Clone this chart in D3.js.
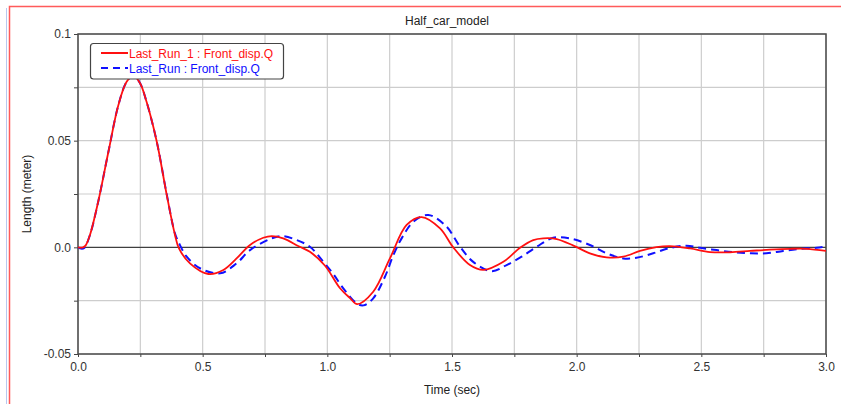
<!DOCTYPE html>
<html>
<head>
<meta charset="utf-8">
<script src="https://cdn.jsdelivr.net/npm/d3@7"></script>
<style>
  html, body { margin: 0; padding: 0; background: #fff; }
  svg { display: block; }
  text { font-family: "Liberation Sans", Arial, sans-serif; }
</style>
</head>
<body>
<div id="chart"></div>
<script>
// ---- data ----
const title = "Half_car_model";
const xLabel = "Time (sec)";
const yLabel = "Length (meter)";
const seriesNames = ["Last_Run_1 : Front_disp.Q", "Last_Run : Front_disp.Q"];

const timeRun1 = [0, 0.02, 0.03, 0.048, 0.081, 0.122, 0.162, 0.195, 0.222, 0.249, 0.275, 0.316, 0.356, 0.389, 0.405, 0.449, 0.523, 0.583, 0.636, 0.69, 0.743, 0.777, 0.823, 0.885, 0.93, 0.99, 1.051, 1.091, 1.12, 1.184, 1.251, 1.318, 1.378, 1.452, 1.505, 1.572, 1.626, 1.706, 1.773, 1.826, 1.866, 1.92, 1.987, 2.053, 2.12, 2.187, 2.254, 2.32, 2.374, 2.455, 2.535, 2.615, 2.695, 2.775, 2.856, 2.922, 3.0];
const lastRun1 = [0, 0, 0.0008, 0.0058, 0.0214, 0.0448, 0.0667, 0.0776, 0.0805, 0.0769, 0.0682, 0.0495, 0.0245, 0.0058, -0.0005, -0.0075, -0.0125, -0.0106, -0.0052, 0.0011, 0.0045, 0.0053, 0.0042, 0.0005, -0.0021, -0.0085, -0.0192, -0.0238, -0.0266, -0.0208, -0.0052, 0.0105, 0.0142, 0.0089, 0, -0.0083, -0.0106, -0.0068, -0.0002, 0.0034, 0.0042, 0.0039, 0.0008, -0.0028, -0.0047, -0.0044, -0.0017, 0.0001, 0.0006, -0.0005, -0.0022, -0.0023, -0.0017, -0.0011, -0.0007, -0.0007, -0.0017];

const timeRun = [0, 0.012, 0.025, 0.048, 0.081, 0.122, 0.162, 0.195, 0.222, 0.249, 0.275, 0.316, 0.356, 0.389, 0.41, 0.436, 0.489, 0.57, 0.636, 0.69, 0.77, 0.817, 0.877, 0.93, 0.984, 1.024, 1.064, 1.118, 1.145, 1.184, 1.231, 1.265, 1.298, 1.345, 1.405, 1.478, 1.532, 1.585, 1.66, 1.719, 1.779, 1.84, 1.906, 1.973, 2.053, 2.12, 2.187, 2.24, 2.307, 2.368, 2.441, 2.495, 2.561, 2.628, 2.695, 2.761, 2.828, 2.894, 2.963, 3.0];
const lastRun = [0, -0.0006, -0.0003, 0.0058, 0.0214, 0.0448, 0.0667, 0.0776, 0.0805, 0.0769, 0.0682, 0.0495, 0.0248, 0.0065, 0.0008, -0.0044, -0.0098, -0.0122, -0.0075, -0.0013, 0.0039, 0.0053, 0.0034, 0.0003, -0.0068, -0.0125, -0.0192, -0.0263, -0.0272, -0.0239, -0.0138, -0.0036, 0.0042, 0.012, 0.0152, 0.0097, 0.0003, -0.0068, -0.0112, -0.0083, -0.0044, 0.0003, 0.0045, 0.0042, 0.0011, -0.0028, -0.0052, -0.0049, -0.0028, -0.0005, 0.0008, -0.0002, -0.0013, -0.0023, -0.0028, -0.0028, -0.0017, -0.0008, -0.0002, 0.0003];

const xTicks = [0, 0.5, 1.0, 1.5, 2.0, 2.5, 3.0];
const xTickLabels = ["0.0", "0.5", "1.0", "1.5", "2.0", "2.5", "3.0"];
const xMinorTicks = [0, 0.25, 0.5, 0.75, 1.0, 1.25, 1.5, 1.75, 2.0, 2.25, 2.5, 2.75, 3.0];
const yTicks = [-0.05, 0, 0.05, 0.1];
const yTickLabels = ["-0.05", "0.0", "0.05", "0.1"];
const yMinorTicks = [-0.05, -0.025, 0, 0.025, 0.05, 0.075, 0.1];

// ---- layout ----
const W = 841, H = 404;
const m = { left: 78, right: 15, top: 34, bottom: 50 };
const plotW = W - m.left - m.right; // 748
const plotH = H - m.top - m.bottom; // 320
const FS = 12;

const svg = d3.select("#chart").append("svg").attr("width", W).attr("height", H);

// outer frame decorations
svg.append("line").attr("x1", 6.5).attr("x2", 6.5).attr("y1", 8).attr("y2", H)
  .attr("stroke", "#b8c8f0").attr("stroke-width", 1);
svg.append("rect").attr("x", 9.5).attr("y", 6.5).attr("width", W + 10).attr("height", H + 10)
  .attr("fill", "none").attr("stroke", "#ff5a5a").attr("stroke-width", 1.5);

const x = d3.scaleLinear().domain([0, 3]).range([0, plotW]);
const y = d3.scaleLinear().domain([-0.05, 0.1]).range([plotH, 0]);

const g = svg.append("g").attr("transform", `translate(${m.left},${m.top})`);

// grid
g.append("g").selectAll("line").data(xMinorTicks).join("line")
  .attr("x1", d => x(d)).attr("x2", d => x(d)).attr("y1", 0).attr("y2", plotH)
  .attr("stroke", "#cdcdcd").attr("stroke-width", 1.2);
g.append("g").selectAll("line").data(yMinorTicks).join("line")
  .attr("x1", 0).attr("x2", plotW).attr("y1", d => y(d)).attr("y2", d => y(d))
  .attr("stroke", "#cdcdcd").attr("stroke-width", 1.2);

// zero line
g.append("line").attr("x1", 0).attr("x2", plotW).attr("y1", y(0)).attr("y2", y(0))
  .attr("stroke", "#222").attr("stroke-width", 1);

// axes
const xAxis = d3.axisBottom(x).tickValues(xMinorTicks).tickSize(3)
  .tickFormat(d => { const i = xTicks.findIndex(t => Math.abs(t - d) < 1e-9); return i >= 0 ? xTickLabels[i] : ""; });
const gx = g.append("g").attr("transform", `translate(0,${plotH})`).call(xAxis);
gx.select(".domain").remove();
gx.selectAll(".tick line").attr("stroke", "#444");
gx.selectAll(".tick text").attr("fill", "#333").attr("font-size", FS)
  .attr("font-family", "Liberation Sans, Arial, sans-serif").attr("dy", "0.95em");

const yAxis = d3.axisLeft(y).tickValues(yMinorTicks).tickSize(4)
  .tickFormat(d => { const i = yTicks.findIndex(t => Math.abs(t - d) < 1e-9); return i >= 0 ? yTickLabels[i] : ""; });
const gy = g.append("g").call(yAxis);
gy.select(".domain").remove();
gy.selectAll(".tick line").attr("stroke", "#444");
gy.selectAll(".tick text").attr("fill", "#333").attr("font-size", FS)
  .attr("font-family", "Liberation Sans, Arial, sans-serif").attr("x", -7);

// frame
g.append("rect").attr("x", 0).attr("y", 0).attr("width", plotW).attr("height", plotH)
  .attr("fill", "none").attr("stroke", "#4a4a4a").attr("stroke-width", 1.5);

// lines
svg.append("clipPath").attr("id", "clip").append("rect")
  .attr("width", plotW).attr("height", plotH);
const lineGen = d3.line().x(d => x(d[0])).y(d => y(d[1])).curve(d3.curveCatmullRom.alpha(0.5));
const dataRun1 = timeRun1.map((t, i) => [t, lastRun1[i]]);
const dataRun = timeRun.map((t, i) => [t, lastRun[i]]);

const lines = g.append("g").attr("clip-path", "url(#clip)");
lines.append("path").datum(dataRun).attr("d", lineGen)
  .attr("fill", "none").attr("stroke", "#1010ff").attr("stroke-width", 2)
  .attr("stroke-dasharray", "8,5");
lines.append("path").datum(dataRun1).attr("d", lineGen)
  .attr("fill", "none").attr("stroke", "#ff1010").attr("stroke-width", 1.8);

// legend
const lg = svg.append("g");
lg.append("rect").attr("x", 90.5).attr("y", 43.5).attr("width", 193).attr("height", 35.5)
  .attr("rx", 3).attr("fill", "#fff").attr("stroke", "#444").attr("stroke-width", 1.2);
const legendColors = ["#ff1010", "#1010ff"];
const legendDash = [null, "7,5"];
seriesNames.forEach((name, i) => {
  const yy = 53 + i * 15;
  lg.append("line").attr("x1", 101).attr("x2", 128).attr("y1", yy).attr("y2", yy)
    .attr("stroke", legendColors[i]).attr("stroke-width", 2)
    .attr("stroke-dasharray", legendDash[i]);
  lg.append("text").attr("x", 129).attr("y", yy + 4.5).attr("font-size", FS)
    .attr("fill", legendColors[i]).text(name);
});

// title & axis labels
svg.append("text").attr("x", 447).attr("y", 25).attr("text-anchor", "middle")
  .attr("font-size", FS).attr("fill", "#222").text(title);
svg.append("text").attr("x", m.left + plotW / 2).attr("y", 394).attr("text-anchor", "middle")
  .attr("font-size", FS).attr("fill", "#222").text(xLabel);
svg.append("text").attr("transform", `translate(31,${m.top + plotH / 2}) rotate(-90)`)
  .attr("text-anchor", "middle").attr("font-size", FS).attr("fill", "#222").text(yLabel);
</script>
</body>
</html>
